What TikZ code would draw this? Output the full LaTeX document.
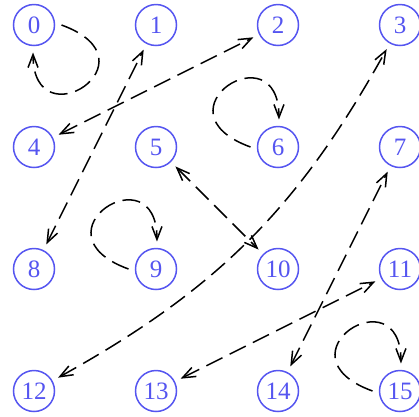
\documentclass[tikz,border=0pt]{standalone}
\usepackage{fontspec}
\setmainfont{Liberation Serif}
\usetikzlibrary{arrows.meta}
\definecolor{nodeblue}{RGB}{85,85,240}
\begin{document}
\begin{tikzpicture}[x=1pt,y=1pt,
  vert/.style={circle,draw=nodeblue,text=nodeblue,line width=1.5pt,minimum size=41pt,inner sep=0pt,outer sep=7pt,font=\fontsize{25}{25}\selectfont},
  barb/.tip={Straight Barb[length=13pt,width=10pt]},
  edge/.style={line width=1.5pt,dash pattern=on 18pt off 8pt,-barb},
  biedge/.style={line width=1.5pt,dash pattern=on 18pt off 8pt,barb-barb}]
\useasboundingbox (0,0) rectangle (419,-416);
\node[vert] (n0) at (34,-25) {0};
\node[vert] (n1) at (156,-25) {1};
\node[vert] (n2) at (278,-25) {2};
\node[vert] (n3) at (400,-25) {3};
\node[vert] (n4) at (34,-147) {4};
\node[vert] (n5) at (156,-147) {5};
\node[vert] (n6) at (278,-147) {6};
\node[vert] (n7) at (400,-147) {7};
\node[vert] (n8) at (34,-269) {8};
\node[vert] (n9) at (156,-269) {9};
\node[vert] (n10) at (278,-269) {10};
\node[vert] (n11) at (400,-269) {11};
\node[vert] (n12) at (34,-391) {12};
\node[vert] (n13) at (156,-391) {13};
\node[vert] (n14) at (278,-391) {14};
\node[vert] (n15) at (400,-391) {15};
% self loops
\draw[edge] (n0.east) .. controls +(-20:105) and +(-90:90) .. (n0.-92);
\draw[edge] (n6.west) .. controls +(160:105) and +(90:90) .. (n6.88);
\draw[edge] (n9.west) .. controls +(160:105) and +(90:90) .. (n9.88);
\draw[edge] (n15.west) .. controls +(160:105) and +(90:90) .. (n15.88);
% double arrows
\draw[biedge] (n8) -- (n1);
\draw[biedge] (n4) -- (n2);
\draw[biedge] (n12) to[bend right=16] (n3);
\draw[biedge] (n5) -- (n10);
\draw[biedge] (n14) -- (n7);
\draw[biedge] (n13) -- (n11);
\end{tikzpicture}
\end{document}
